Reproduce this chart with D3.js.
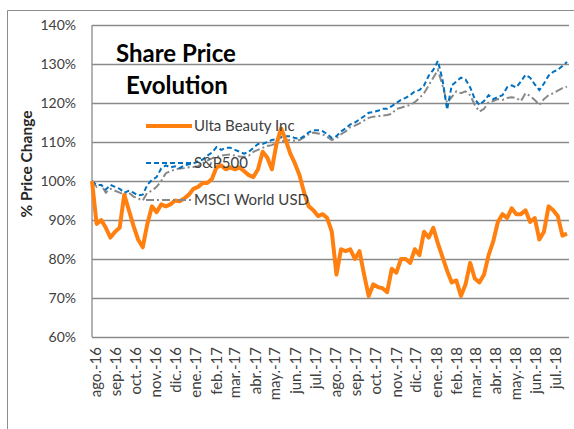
<!DOCTYPE html>
<html>
<head>
<meta charset="utf-8">
<script src="https://cdn.jsdelivr.net/npm/d3@7"></script>
<style>
  body { margin: 0; background: #fff; }
  svg text { font-family: Lato, "Open Sans", sans-serif; }
</style>
</head>
<body>
<svg id="chart" width="574" height="429"></svg>
<script>
// month labels on the x axis (Spanish, as in the source)
const monthLabels = ["ago.-16","sep.-16","oct.-16","nov.-16","dic.-16","ene.-17","feb.-17","mar.-17",
  "abr.-17","may.-17","jun.-17","jul.-17","ago.-17","sep.-17","oct.-17","nov.-17","dic.-17",
  "ene.-18","feb.-18","mar.-18","abr.-18","may.-18","jun.-18","jul.-18"];
const yTicks = [60, 70, 80, 90, 100, 110, 120, 130, 140];
const seriesNames = ["Ulta Beauty Inc", "S&P500", "MSCI World USD"];

// weekly values, % of start price
const ulta = [100,89,90,88,85.5,87,88,96.5,92.5,88.5,85,83,89,93.5,92,94,93.5,94,95,94.8,
  95.5,96.5,98,98.5,99.5,99.5,100.5,103.5,104,103,103.5,103,103.5,102.5,101.5,101,103,107.5,106,103,
  109.5,113.5,110.5,107,104.5,101.5,97,93.5,92.5,91,91.5,90.5,87,76,82.5,82,82.5,80,82,76,
  70.5,73.5,72.8,72.5,71.5,77.5,76.5,80,80,79,82.5,81,87,85.5,88,84,80.5,77,74,74.5,
  70.5,73.5,79,75,74,76,81,84.5,89.5,91.5,90.5,93,91.5,91.5,92.5,89.5,90.5,85,87,93.5,
  92.5,91,86,86.5];
const sp500 = [100,99,99,97.8,99,98.5,98,97,97.5,97,96.3,96.5,99,100.3,101,103.2,104,103.5,103.8,103.3,
  104,104.3,104.5,105,105.5,106.5,107.3,108.7,108,108.5,108.5,108,107.5,107,107.5,108.5,109.5,109.5,110,110.5,
  110.7,111.2,111.5,111.5,111,110.8,111.5,112.5,113,113,112.8,112,111,111.5,112.7,113.5,114.5,115,115.8,116.6,
  117.5,117.7,118,118.5,118.5,119.2,120,120.8,121.3,122,123,123.3,124.5,127,128.5,130.8,126,118.3,124.5,125.5,
  126.5,126,124,121,119.5,120.5,122,121,121.5,122,124,124.5,124,125.5,127.2,126.5,124.8,123.3,125,127,
  128,128.5,129.5,130.5];
const msci = [100,98.5,99,97,98,97.5,97,96.5,97,96,95.5,95,97,97.5,98.5,100,102,102.5,103,103.2,
  103.3,103.5,103.6,103.8,104.5,105.2,105.8,106.2,106.5,106.7,106.8,106.5,106.3,106.2,106.5,107.5,108,108.5,109,109.2,
  109.7,110.2,110.3,110.5,110.3,110.5,111.2,112,112.4,112.2,112,111.3,110.5,111,112,112.7,113.8,114.2,114.8,115.5,
  116.2,116.5,116.6,116.8,116.9,117.2,118.5,118.8,119.2,119.5,120.2,121.3,122.5,124.5,126.5,128.5,124.5,120,121.5,123,
  122.5,123,122,119.5,117.8,118.5,120.2,120.5,121,120.8,121.3,121.5,121.3,120.5,122.5,121.8,120.8,119.5,121,122,
  122.5,123.2,123.8,124.2];

const dates = d3.timeMonday.range(new Date(2016, 7, 1), new Date(2018, 6, 24));
const monthTicks = d3.timeMonth.range(new Date(2016, 7, 1), new Date(2018, 7, 1));

const svg = d3.select('#chart');
const plotLeft = 92, plotRight = 569, plotTop = 25, plotBottom = 337;

const x = d3.scaleTime()
  .domain([new Date(2016, 7, 1), new Date(2018, 6, 26)])
  .range([plotLeft, plotRight]);
const y = d3.scaleLinear().domain([60, 140]).range([plotBottom, plotTop]);

// outer chart frame (only top and left edges are visible)
svg.append('path')
  .attr('d', 'M7.5,429 V10.5 H574')
  .attr('fill', 'none')
  .attr('stroke', '#8c8c8c')
  .attr('stroke-width', 1);

// y axis + gridlines
const yAxis = svg.append('g')
  .attr('transform', `translate(${plotLeft},0)`)
  .call(d3.axisLeft(y).tickValues(yTicks).tickSize(-(plotRight - plotLeft)).tickFormat(d => d + '%'));
yAxis.select('.domain').remove();
yAxis.selectAll('line').attr('stroke', '#8a8a8a').attr('stroke-width', 1.3);
yAxis.selectAll('text')
  .attr('x', -16)
  .attr('font-size', 14)
  .attr('fill', '#404040');

// left axis line
svg.append('line')
  .attr('x1', plotLeft).attr('x2', plotLeft)
  .attr('y1', plotTop).attr('y2', plotBottom)
  .attr('stroke', '#8a8a8a').attr('stroke-width', 1.3);

// x axis labels
const xAxis = svg.append('g')
  .attr('transform', `translate(0,${plotBottom})`)
  .call(d3.axisBottom(x).tickValues(monthTicks).tickSize(0).tickFormat((d, i) => monthLabels[i]));
xAxis.select('.domain').remove();
xAxis.selectAll('text')
  .attr('transform', 'rotate(-90)')
  .attr('text-anchor', 'end')
  .attr('x', -10)
  .attr('y', 8)
  .attr('dy', null)
  .attr('font-size', 15)
  .attr('fill', '#404040');

// y axis title
svg.append('text')
  .attr('transform', 'translate(32,164) rotate(-90)')
  .attr('text-anchor', 'middle')
  .attr('font-size', 15.5)
  .attr('font-weight', 'bold')
  .attr('fill', '#262626')
  .text('% Price Change');

// series lines
const line = d3.line()
  .x((d, i) => x(dates[i]))
  .y(d => y(d));

svg.append('path')
  .datum(msci)
  .attr('d', line)
  .attr('fill', 'none')
  .attr('stroke', '#888888')
  .attr('stroke-width', 2)
  .attr('stroke-dasharray', '8,3,2,3');

svg.append('path')
  .datum(sp500)
  .attr('d', line)
  .attr('fill', 'none')
  .attr('stroke', '#0070c0')
  .attr('stroke-width', 2)
  .attr('stroke-dasharray', '5,3');

svg.append('path')
  .datum(ulta)
  .attr('d', line)
  .attr('fill', 'none')
  .attr('stroke', '#ff7f0f')
  .attr('stroke-width', 4)
  .attr('stroke-linejoin', 'round');

// title
const title = svg.append('text')
  .attr('font-size', 24)
  .attr('font-weight', 'bold')
  .attr('fill', '#000');
title.append('tspan').attr('x', 116).attr('y', 62).text('Share Price');
title.append('tspan').attr('x', 126).attr('y', 94).text('Evolution');

// legend
const legendStyles = [
  { color: '#ff7f0f', width: 4, dash: null, y: 126 },
  { color: '#0070c0', width: 2, dash: '5,3', y: 163 },
  { color: '#888888', width: 2, dash: '8,3,2,3', y: 200 }
];
seriesNames.forEach((name, i) => {
  const s = legendStyles[i];
  svg.append('line')
    .attr('x1', 146).attr('x2', 192)
    .attr('y1', s.y).attr('y2', s.y)
    .attr('stroke', s.color)
    .attr('stroke-width', s.width)
    .attr('stroke-dasharray', s.dash);
  svg.append('text')
    .attr('x', 194).attr('y', s.y + 5)
    .attr('font-size', 15)
    .attr('fill', '#404040')
    .text(name);
});
</script>
</body>
</html>
